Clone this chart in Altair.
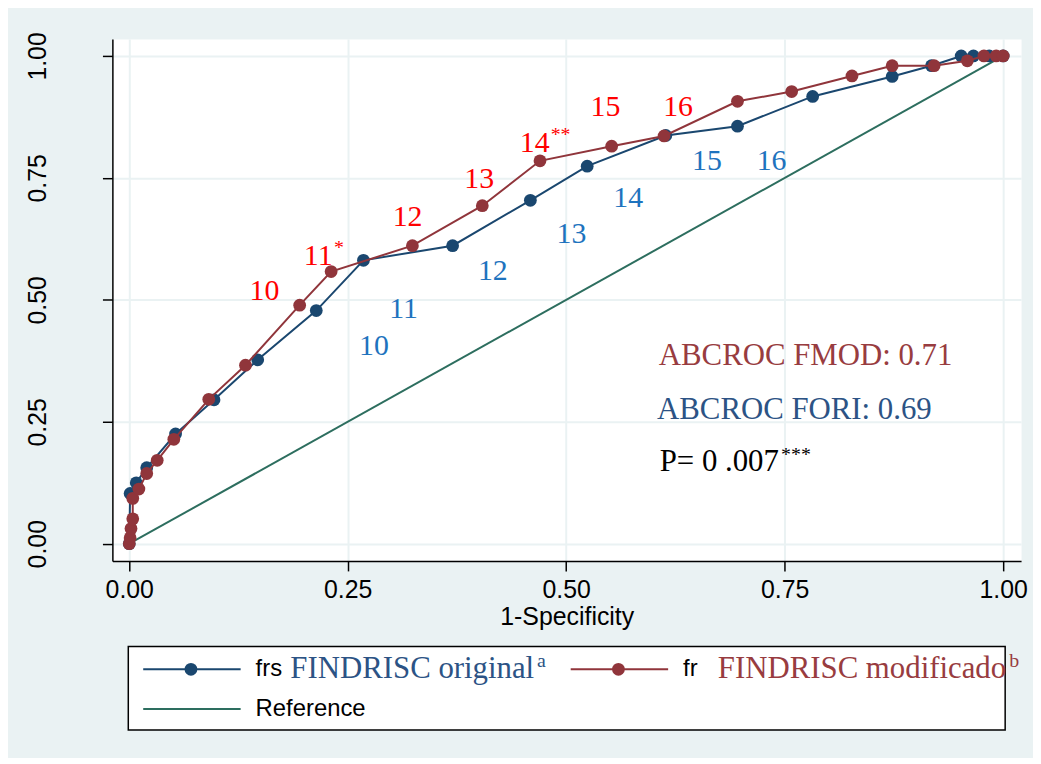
import altair as alt
import pandas as pd

# ---------------- data ----------------
orig_x = [0.0, 0.001, 0.008, 0.020, 0.053, 0.097, 0.147, 0.214, 0.268, 0.370, 0.459,
          0.524, 0.614, 0.696, 0.782, 0.873, 0.918, 0.952, 0.966, 0.984, 1.0]
orig_y = [0.0, 0.103, 0.125, 0.156, 0.225, 0.295, 0.377, 0.478, 0.581, 0.611, 0.704,
          0.774, 0.837, 0.856, 0.917, 0.958, 0.980, 1.0, 1.0, 1.0, 1.0]

mod_x = [0.0, 0.001, 0.002, 0.004, 0.004, 0.011, 0.020, 0.032, 0.051, 0.091, 0.133,
         0.195, 0.231, 0.324, 0.404, 0.470, 0.552, 0.612, 0.696, 0.758, 0.827, 0.873,
         0.921, 0.959, 0.978, 0.992, 1.0]
mod_y = [0.0, 0.012, 0.031, 0.051, 0.093, 0.112, 0.144, 0.171, 0.214, 0.296, 0.366,
         0.489, 0.558, 0.611, 0.693, 0.785, 0.815, 0.836, 0.907, 0.927, 0.959, 0.980,
         0.980, 0.990, 1.0, 1.0, 1.0]

ref_x = [0.0, 1.0]
ref_y = [0.0, 1.0]

red_labels = ["10", "11", "12", "13", "14", "15", "16"]
red_label_x = [0.1547, 0.2162, 0.3185, 0.4005, 0.464, 0.545, 0.628]
red_label_y = [0.519, 0.590, 0.670, 0.747, 0.821, 0.896, 0.896]
red_label_sup = ["", "*", "", "", "**", "", ""]

blue_labels = ["10", "11", "12", "13", "14", "15", "16"]
blue_label_x = [0.280, 0.314, 0.416, 0.506, 0.571, 0.661, 0.735]
blue_label_y = [0.405, 0.482, 0.560, 0.635, 0.709, 0.784, 0.784]

ann_text = ["ABCROC FMOD: 0.71", "ABCROC FORI: 0.69", "P= 0 .007"]
ann_x = [0.606, 0.604, 0.607]
ann_y = [0.385, 0.275, 0.168]
ann_sup = ["", "", "***"]

legend_series = ["FINDRISC original", "FINDRISC modificado", "Reference"]
legend_prefix = ["frs", "fr", "Reference"]
legend_name = ["FINDRISC original", "FINDRISC modificado", ""]
legend_sup = ["a", "b", ""]
legend_col = [0, 1, 0]
legend_row = [0, 0, 1]
legend_marker = [True, True, False]

# ---------------- styles ----------------
BG = "#eaf2f3"
NAVY = "#1a476f"
MAROON = "#90353b"
GREEN = "#2d6e5f"
RED = "#ff0000"
LBLUE = "#1e73be"
TNAVY = "#2c5385"
TMAROON = "#983c40"
SERIF = "Liberation Serif"
SANS = "Liberation Sans"

ticks = [0, 0.25, 0.5, 0.75, 1]

common_axis = dict(
    values=ticks, format=".2f", labelFont=SANS, labelFontSize=25, labelColor="black",
    tickSize=10, tickColor="black", tickWidth=1.5, domainColor="black", domainWidth=1.5,
    grid=True, gridColor=BG, gridWidth=2, labelFlush=False, labelOverlap=False,
)

X = alt.X("x:Q", scale=alt.Scale(domain=[-0.0193, 1.0205], nice=False, zero=False),
          axis=alt.Axis(title="1-Specificity", titleFont=SANS, titleFontSize=25,
                        titleFontWeight="normal", titleColor="black", titlePadding=2,
                        labelPadding=7, **common_axis))
Y = alt.Y("y:Q", scale=alt.Scale(domain=[-0.0353, 1.0347], nice=False, zero=False),
          axis=alt.Axis(title="", labelAngle=270, labelAlign="center",
                        labelBaseline="alphabetic", labelPadding=57, **common_axis))

orig_df = pd.DataFrame({"x": orig_x, "y": orig_y, "step": range(len(orig_x))})
mod_df = pd.DataFrame({"x": mod_x, "y": mod_y, "step": range(len(mod_x))})
ref_df = pd.DataFrame({"x": ref_x, "y": ref_y, "step": range(len(ref_x))})
red_df = pd.DataFrame({"x": red_label_x, "y": red_label_y, "label": red_labels,
                       "sup": red_label_sup})
blue_df = pd.DataFrame({"x": blue_label_x, "y": blue_label_y, "label": blue_labels})
ann_df = pd.DataFrame({"x": ann_x, "y": ann_y, "label": ann_text, "sup": ann_sup})

MS = 165

ref_line = alt.Chart(ref_df).mark_line(color=GREEN, strokeWidth=2).encode(
    x=X, y=Y, order="step:Q")
orig_line = alt.Chart(orig_df).mark_line(color=NAVY, strokeWidth=2).encode(
    x=X, y=Y, order="step:Q")
orig_pts = alt.Chart(orig_df).mark_circle(color=NAVY, size=MS, opacity=1).encode(x=X, y=Y)
mod_line = alt.Chart(mod_df).mark_line(color=MAROON, strokeWidth=2).encode(
    x=X, y=Y, order="step:Q")
mod_pts = alt.Chart(mod_df).mark_circle(color=MAROON, size=MS, opacity=1).encode(x=X, y=Y)

red_text = alt.Chart(red_df).mark_text(
    font=SERIF, fontSize=30, color=RED, align="center", baseline="middle").encode(
    x=X, y=Y, text="label:N")
red_sup = alt.Chart(red_df).mark_text(
    font=SERIF, fontSize=20, color=RED, align="left", baseline="middle", dx=16, dy=-8).encode(
    x=X, y=Y, text="sup:N")
blue_text = alt.Chart(blue_df).mark_text(
    font=SERIF, fontSize=30, color=LBLUE, align="center", baseline="middle").encode(
    x=X, y=Y, text="label:N")

ann = alt.Chart(ann_df).mark_text(
    font=SERIF, fontSize=31, align="left", baseline="middle").encode(
    x=X, y=Y, text="label:N",
    color=alt.Color("label:N", scale=alt.Scale(domain=ann_text, range=[TMAROON, TNAVY, "black"]),
                    legend=None))
ann_sup_l = alt.Chart(ann_df).mark_text(
    font=SERIF, fontSize=20, color="black", align="left", baseline="middle", dx=122, dy=-7).encode(
    x=X, y=Y, text="sup:N")

main = alt.layer(
    ref_line, orig_line, orig_pts, mod_line, mod_pts, red_text, red_sup, blue_text, ann, ann_sup_l
).properties(
    width=914, height=525, view=alt.ViewBackground(fill="white", stroke="transparent")
)

# ---------------- legend panel ----------------
leg_df = pd.DataFrame({"series": legend_series, "prefix": legend_prefix, "name": legend_name,
                       "sup": legend_sup, "col": legend_col, "row": legend_row,
                       "marker": legend_marker})
LX = alt.X("col:Q", scale=alt.Scale(domain=[0, 882 / 430], nice=False, zero=False), axis=None)
LY = alt.Y("row:Q", scale=alt.Scale(domain=[-0.575, 1.525], nice=False, zero=False, reverse=True),
           axis=None)
LC = alt.Color("series:N", scale=alt.Scale(domain=legend_series, range=[NAVY, MAROON, GREEN]),
               legend=None)

leg_rule = alt.Chart(leg_df).mark_rule(strokeWidth=2, xOffset=15, x2Offset=113).encode(
    x=LX, x2="col:Q", y=LY, color=LC)
leg_pts = alt.Chart(leg_df).transform_filter("datum.marker").mark_circle(
    size=MS, opacity=1, xOffset=63).encode(x=LX, y=LY, color=LC)
leg_prefix = alt.Chart(leg_df).mark_text(
    font=SANS, fontSize=24, color="black", align="left", baseline="middle", dx=128).encode(
    x=LX, y=LY, text="prefix:N")
leg_name = alt.Chart(leg_df).mark_text(
    font=SERIF, fontSize=31, align="left", baseline="middle", dx=163).encode(
    x=LX, y=LY, text="name:N",
    color=alt.Color("series:N", scale=alt.Scale(domain=legend_series,
                                                range=[TNAVY, TMAROON, "black"]), legend=None))
leg_sup_a = alt.Chart(leg_df).transform_filter("datum.sup == 'a'").mark_text(
    font=SERIF, fontSize=20, color=TNAVY, align="left", baseline="middle", dx=411, dy=-8).encode(
    x=LX, y=LY, text="sup:N")
leg_sup_b = alt.Chart(leg_df).transform_filter("datum.sup == 'b'").mark_text(
    font=SERIF, fontSize=20, color=TMAROON, align="left", baseline="middle", dx=456, dy=-8).encode(
    x=LX, y=LY, text="sup:N")

legend = alt.layer(
    leg_rule, leg_pts, leg_prefix, leg_name, leg_sup_a, leg_sup_b
).resolve_scale(color="independent").properties(
    width=882, height=84,
    view=alt.ViewBackground(fill="white", stroke="black", strokeWidth=1.5)
)

chart = alt.vconcat(main, legend, spacing=86, center=True, bounds="flush").properties(
    background=BG,
    padding={"left": 17, "top": 21, "right": 5, "bottom": 25},
)

chart.save("out.html", embed_options={"renderer": "svg", "actions": False})
